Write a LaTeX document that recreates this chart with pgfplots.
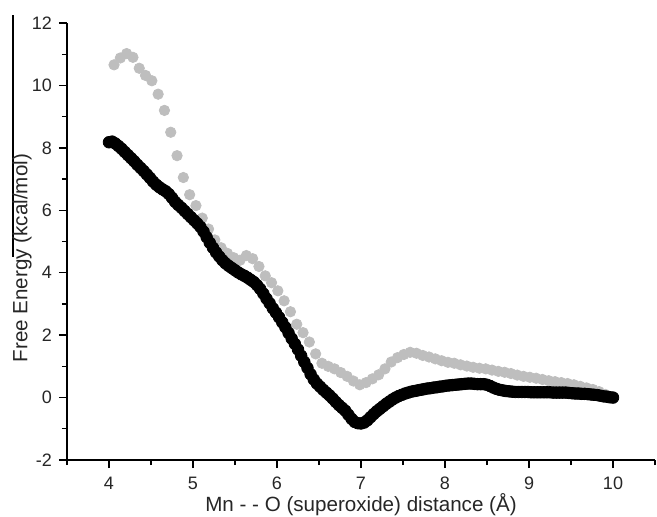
\documentclass[border=0pt]{standalone}
\usepackage{fontspec}
\setmainfont{Liberation Sans}
\usepackage{pgfplots}
\pgfplotsset{compat=1.18}
\usetikzlibrary{calc}

\definecolor{lightgray}{RGB}{190,190,190}

\begin{document}
\begin{tikzpicture}
\begin{axis}[
    name=ax,
    scale only axis,
    width=294pt, height=218.5pt,
    xmin=3.5, xmax=10.5,
    ymin=-2, ymax=12,
    axis x line*=bottom,
    axis y line*=left,
    axis line style={line width=0.75pt},
    tick style={line width=0.7pt, black},
    tick align=outside,
    major tick length=4pt,
    minor tick length=2.5pt,
    xtick={4,5,6,7,8,9,10},
    ytick={-2,0,2,4,6,8,10,12},
    minor xtick={3.5,4.5,5.5,6.5,7.5,8.5,9.5,10.5},
    minor ytick={-1,1,3,5,7,9,11},
    /pgf/number format/assume math mode=true,
    tick label style={font=\fontsize{9}{10}\selectfont, text=black!85},
    xticklabel style={yshift=-1pt},
    label style={font=\fontsize{10.3}{12}\selectfont, text=black!85},
    xlabel={Mn - - O (superoxide) distance (Å)},
    ylabel={Free Energy (kcal/mol)},
    xlabel style={at={(axis description cs:0.5,-0.103)}, anchor=center},
    ylabel style={at={(axis description cs:-0.0765,0.462)}, anchor=center},
    clip=false,
]
% light grey series
\addplot[only marks, mark=*, mark size=2.6pt, color=lightgray,
         mark options={draw=none, fill=lightgray}]
coordinates {
(4.06,10.66) (4.135,10.88) (4.21,11.02) (4.285,10.9) (4.36,10.55)
(4.435,10.32) (4.51,10.15) (4.585,9.72) (4.66,9.2) (4.735,8.5)
(4.81,7.75) (4.885,7.05) (4.96,6.5) (5.035,6.15) (5.11,5.75)
(5.185,5.4) (5.26,5.05) (5.335,4.8) (5.41,4.62) (5.485,4.48)
(5.56,4.4) (5.635,4.55) (5.71,4.45) (5.785,4.2) (5.86,3.9)
(5.935,3.68) (6.01,3.42) (6.085,3.1) (6.16,2.75) (6.235,2.35)
(6.31,2.08) (6.385,1.78) (6.46,1.4) (6.535,1.1) (6.61,1.0)
(6.685,0.92) (6.76,0.8) (6.835,0.68) (6.91,0.53) (6.985,0.41)
(7.06,0.48) (7.135,0.6) (7.21,0.73) (7.285,0.92) (7.36,1.14)
(7.435,1.28) (7.51,1.38) (7.585,1.45) (7.66,1.42) (7.735,1.35)
(7.81,1.3) (7.885,1.24) (7.96,1.18) (8.035,1.13) (8.11,1.1)
(8.185,1.05) (8.26,1.01) (8.335,0.97) (8.41,0.94) (8.485,0.92)
(8.56,0.88) (8.635,0.84) (8.71,0.81) (8.785,0.77) (8.86,0.72)
(8.935,0.68) (9.01,0.65) (9.085,0.62) (9.16,0.58) (9.235,0.54)
(9.31,0.51) (9.385,0.48) (9.46,0.45) (9.535,0.41) (9.61,0.36)
(9.685,0.31) (9.76,0.26) (9.835,0.19) (9.91,0.1)
};
% black series
\addplot[only marks, mark=*, mark size=2.9pt, color=black,
         mark options={draw=none, fill=black}]
table {
x y
4.0 8.18
4.0375 8.20
4.075 8.14
4.1125 8.06
4.15 7.97
4.1875 7.87
4.225 7.77
4.2625 7.67
4.3 7.57
4.3375 7.46
4.375 7.36
4.4125 7.26
4.45 7.15
4.4875 7.04
4.525 6.92
4.5625 6.82
4.6 6.74
4.6375 6.67
4.675 6.61
4.7125 6.52
4.75 6.40
4.7875 6.27
4.825 6.17
4.8625 6.08
4.9 5.98
4.9375 5.88
4.975 5.78
5.0125 5.68
5.05 5.58
5.0875 5.47
5.125 5.32
5.1625 5.14
5.2 4.96
5.2375 4.80
5.275 4.65
5.3125 4.52
5.35 4.40
5.3875 4.30
5.425 4.22
5.4625 4.15
5.5 4.08
5.5375 4.01
5.575 3.95
5.6125 3.90
5.65 3.84
5.6875 3.77
5.725 3.70
5.7625 3.60
5.8 3.48
5.8375 3.33
5.875 3.17
5.9125 3.02
5.95 2.86
5.9875 2.72
6.025 2.57
6.0625 2.41
6.1 2.25
6.1375 2.07
6.175 1.89
6.2125 1.72
6.25 1.54
6.2875 1.34
6.325 1.14
6.3625 0.95
6.4 0.75
6.4375 0.58
6.475 0.45
6.5125 0.35
6.55 0.25
6.5875 0.16
6.625 0.07
6.6625 -0.03
6.7 -0.14
6.7375 -0.24
6.775 -0.33
6.8125 -0.42
6.85 -0.55
6.8875 -0.68
6.925 -0.78
6.9625 -0.82
7.0 -0.83
7.0375 -0.80
7.075 -0.73
7.1125 -0.63
7.15 -0.53
7.1875 -0.44
7.225 -0.36
7.2625 -0.28
7.3 -0.20
7.3375 -0.13
7.375 -0.06
7.4125 0.00
7.45 0.05
7.4875 0.09
7.525 0.13
7.5625 0.16
7.6 0.19
7.6375 0.21
7.675 0.23
7.7125 0.25
7.75 0.27
7.7875 0.29
7.825 0.30
7.8625 0.32
7.9 0.33
7.9375 0.35
7.975 0.36
8.0125 0.38
8.05 0.39
8.0875 0.40
8.125 0.41
8.1625 0.42
8.2 0.43
8.2375 0.44
8.275 0.45
8.3125 0.45
8.35 0.44
8.3875 0.43
8.425 0.43
8.4625 0.43
8.5 0.41
8.5375 0.37
8.575 0.32
8.6125 0.28
8.65 0.25
8.6875 0.23
8.725 0.21
8.7625 0.20
8.8 0.19
8.8375 0.18
8.875 0.18
8.9125 0.18
8.95 0.18
8.9875 0.18
9.025 0.17
9.0625 0.17
9.1 0.17
9.1375 0.17
9.175 0.17
9.2125 0.17
9.25 0.17
9.2875 0.16
9.325 0.16
9.3625 0.16
9.4 0.16
9.4375 0.16
9.475 0.15
9.5125 0.14
9.55 0.13
9.5875 0.13
9.625 0.12
9.6625 0.12
9.7 0.11
9.7375 0.10
9.775 0.09
9.8125 0.08
9.85 0.06
9.8875 0.04
9.925 0.03
9.9625 0.01
10.0 0.00
};
% stray frame line at the left edge
\draw[line width=0.6pt] (rel axis cs:-0.0918,1.018) -- (rel axis cs:-0.0918,0.4645);
\end{axis}
\pgfresetboundingbox
\useasboundingbox ($(ax.south west)+(-33.5pt,-28pt)$) rectangle ($(ax.north east)+(1pt,11.5pt)$);
\end{tikzpicture}
\end{document}
